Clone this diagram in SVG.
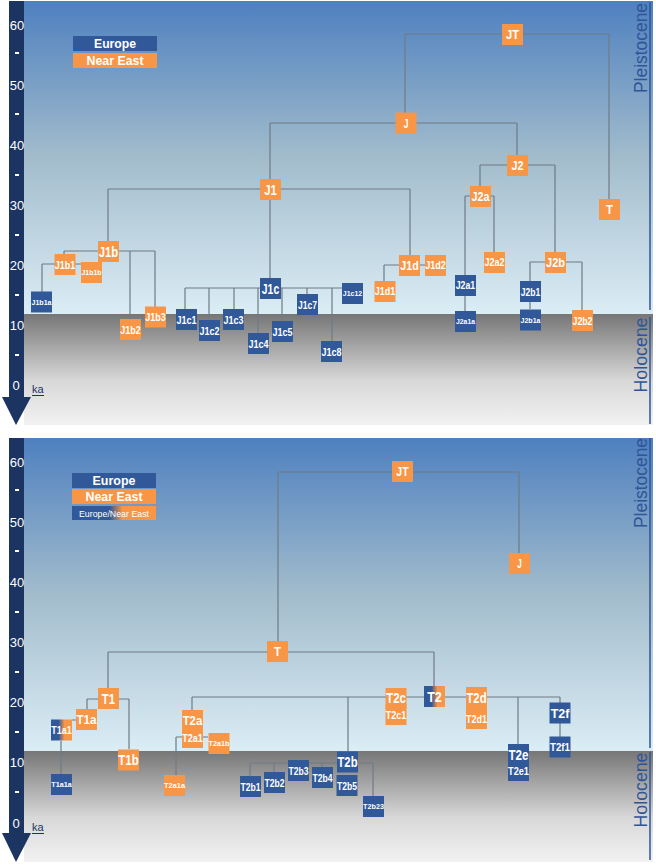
<svg xmlns="http://www.w3.org/2000/svg" width="656" height="865" viewBox="0 0 656 865">
<defs>
<linearGradient id="gP" x1="0" y1="0" x2="0" y2="1"><stop offset="0" stop-color="#4e80bf"/><stop offset="0.5" stop-color="#a2bccc"/><stop offset="1" stop-color="#dbedf5"/></linearGradient>
<linearGradient id="gH" x1="0" y1="0" x2="0" y2="1"><stop offset="0" stop-color="#767676"/><stop offset="0.6" stop-color="#d8d8d8"/><stop offset="1" stop-color="#f2f2f2"/></linearGradient>
<linearGradient id="gBO" x1="0" y1="0" x2="1" y2="0"><stop offset="0.36" stop-color="#31599a"/><stop offset="0.64" stop-color="#f79646"/></linearGradient>
<linearGradient id="gL" x1="0" y1="0" x2="1" y2="0"><stop offset="0.45" stop-color="#31599a"/><stop offset="0.6" stop-color="#f79646"/></linearGradient>
</defs>
<style>
.o{fill:#f79646}.b{fill:#31599a}.g{fill:url(#gBO)}
text{font-family:"Liberation Sans",Arial,sans-serif}
.n text{font-weight:bold;fill:#fff;text-anchor:middle}
.ax{fill:#fff;font-size:13px;text-anchor:middle}
.bar{fill:#1b3461}
.ep{fill:#2f5597;font-size:18px;text-anchor:middle}
.el{stroke:#2f5597;stroke-width:1.5}
.c path{fill:none;stroke:#6f7b86;stroke-width:1.2}
.lg{font-weight:bold;fill:#fff;font-size:12px;text-anchor:middle}
</style>
<!-- backgrounds -->
<rect x="24" y="1" width="629" height="313" fill="url(#gP)"/>
<rect x="24" y="314" width="629" height="111" fill="url(#gH)"/>
<rect x="24" y="438" width="629" height="313" fill="url(#gP)"/>
<rect x="24" y="751" width="629" height="111" fill="url(#gH)"/>
<!-- axes -->
<g id="axis-top">
<rect class="bar" x="9" y="1" width="15" height="397"/>
<polygon class="bar" points="2,397 31,397 16,425"/>
<text class="ax" x="17" y="30">60</text><text class="ax" x="17" y="90">50</text><text class="ax" x="17" y="150">40</text><text class="ax" x="17" y="210">30</text><text class="ax" x="17" y="270">20</text><text class="ax" x="17" y="330">10</text><text class="ax" x="16" y="390">0</text>
<g fill="#fff"><rect x="15" y="52" width="4" height="2"/><rect x="15" y="113" width="4" height="2"/><rect x="15" y="174" width="4" height="2"/><rect x="15" y="234" width="4" height="2"/><rect x="15" y="294" width="4" height="2"/><rect x="15" y="354" width="4" height="2"/></g>
<text x="32" y="393" font-size="11" fill="#1b3461">ka</text><line x1="32" y1="395.5" x2="44" y2="395.5" stroke="#1b3461" stroke-width="1"/>
</g>
<g id="axis-bottom">
<rect class="bar" x="9" y="438" width="15" height="395"/>
<polygon class="bar" points="2,833 31,833 16,862"/>
<text class="ax" x="17" y="467">60</text><text class="ax" x="17" y="527">50</text><text class="ax" x="17" y="587">40</text><text class="ax" x="17" y="647">30</text><text class="ax" x="17" y="707">20</text><text class="ax" x="17" y="767">10</text><text class="ax" x="16" y="828">0</text>
<g fill="#fff"><rect x="15" y="489" width="4" height="2"/><rect x="15" y="550" width="4" height="2"/><rect x="15" y="611" width="4" height="2"/><rect x="15" y="671" width="4" height="2"/><rect x="15" y="731" width="4" height="2"/><rect x="15" y="791" width="4" height="2"/></g>
<text x="32" y="831" font-size="11" fill="#1b3461">ka</text><line x1="32" y1="833.5" x2="44" y2="833.5" stroke="#1b3461" stroke-width="1"/>
</g>
<!-- epochs -->
<g id="epochs">
<text class="ep" transform="translate(647,48) rotate(-90)" textLength="90" lengthAdjust="spacingAndGlyphs">Pleistocene</text>
<text class="ep" transform="translate(647,355) rotate(-90)" textLength="75" lengthAdjust="spacingAndGlyphs">Holocene</text>
<line class="el" x1="650" y1="2" x2="650" y2="310"/><line class="el" x1="650" y1="317" x2="650" y2="424"/>
<text class="ep" transform="translate(647,483) rotate(-90)" textLength="90" lengthAdjust="spacingAndGlyphs">Pleistocene</text>
<text class="ep" transform="translate(647,790) rotate(-90)" textLength="75" lengthAdjust="spacingAndGlyphs">Holocene</text>
<line class="el" x1="650" y1="438" x2="650" y2="748"/><line class="el" x1="650" y1="752" x2="650" y2="860"/>
</g>
<!-- legends -->
<g id="legend-top">
<rect class="b" x="73" y="36" width="84" height="15"/><text class="lg" x="115" y="48" textLength="42" lengthAdjust="spacingAndGlyphs">Europe</text>
<rect class="o" x="73" y="53" width="84" height="15"/><text class="lg" x="115" y="65" textLength="57" lengthAdjust="spacingAndGlyphs">Near East</text>
</g>
<g id="legend-bottom">
<rect class="b" x="72" y="473" width="84" height="15"/><text class="lg" x="114" y="485" textLength="43" lengthAdjust="spacingAndGlyphs">Europe</text>
<rect class="o" x="72" y="489" width="84" height="15"/><text class="lg" x="114" y="501" textLength="57" lengthAdjust="spacingAndGlyphs">Near East</text>
<rect fill="url(#gL)" x="72" y="506" width="84" height="14"/><text x="114" y="516.5" font-size="9.5" fill="#fff" text-anchor="middle" textLength="70" lengthAdjust="spacingAndGlyphs">Europe/Near East</text>
</g>
<!-- connectors -->
<g id="connectors" class="c">
<path d="M405,34H609M405,34V113M609,34V199M270,123H517M270,123V179M517,123V155M480,165H555M480,165V186M555,165V252M465,196H494M465,196V275M494,196V252M465,296V311M530,262H582M530,262V281M582,262V310M530,302V309M108,189H410M410,189V255M108,189V241M270,200V278M384,265H425M384,265V281M64,251H155M64,251V254M130,251V319M155,251V307M42,264H81M42,264V292M185,288H342M185,288V309M209,288V320M234,288V309M258,288V333M282,288V321M307,288V294M332,288V341"/>
<path d="M278,472H519M519,472V553M278,472V641M108,652H434M108,652V688M434,652V686M87,699H129M87,699V709M129,699V749M72,720H76M61,741V774M192,697H560M192,697V710M348,697V752M518,697V744M560,697V703M560,723V737M176,737H208M176,737V775M250,763H373M250,763V776M274,763V772M299,763V760M322,763V767M373,763V796"/>
</g>
<!-- top tree nodes -->
<g id="tJT" class="n"><rect class="o" x="502" y="24" width="21" height="21"/><text x="512.5" y="39.2" font-size="13" textLength="13" lengthAdjust="spacingAndGlyphs">JT</text></g>
<g id="tJ" class="n"><rect class="o" x="395.5" y="112.5" width="21" height="21"/><text x="406" y="127.7" font-size="13" textLength="5" lengthAdjust="spacingAndGlyphs">J</text></g>
<g id="tJ2" class="n"><rect class="o" x="507" y="155" width="21" height="21"/><text x="517.5" y="170.2" font-size="13" textLength="12" lengthAdjust="spacingAndGlyphs">J2</text></g>
<g id="tJ2a" class="n"><rect class="o" x="470" y="186" width="21" height="21"/><text x="480.5" y="200.8" font-size="12" textLength="18" lengthAdjust="spacingAndGlyphs">J2a</text></g>
<g id="tT" class="n"><rect class="o" x="599" y="199" width="21" height="21"/><text x="609.5" y="214.2" font-size="13" textLength="7" lengthAdjust="spacingAndGlyphs">T</text></g>
<g id="tJ2a2" class="n"><rect class="o" x="484" y="252" width="21" height="21"/><text x="494.5" y="266.3" font-size="10.5" textLength="20" lengthAdjust="spacingAndGlyphs">J2a2</text></g>
<g id="tJ2a1" class="n"><rect class="b" x="455" y="275" width="21" height="21"/><text x="465.5" y="289.3" font-size="10.5" textLength="19.5" lengthAdjust="spacingAndGlyphs">J2a1</text></g>
<g id="tJ2a1a" class="n"><rect class="b" x="455" y="311" width="21" height="21"/><text x="465.5" y="324.4" font-size="8" textLength="19" lengthAdjust="spacingAndGlyphs">J2a1a</text></g>
<g id="tJ2b" class="n"><rect class="o" x="545" y="252" width="21" height="21"/><text x="555.5" y="267.2" font-size="13" textLength="19" lengthAdjust="spacingAndGlyphs">J2b</text></g>
<g id="tJ2b1" class="n"><rect class="b" x="520" y="281" width="21" height="21"/><text x="530.5" y="295.6" font-size="11.5" textLength="19.5" lengthAdjust="spacingAndGlyphs">J2b1</text></g>
<g id="tJ2b1a" class="n"><rect class="b" x="520" y="309.5" width="21" height="21"/><text x="530.5" y="322.9" font-size="8" textLength="20" lengthAdjust="spacingAndGlyphs">J2b1a</text></g>
<g id="tJ2b2" class="n"><rect class="o" x="572" y="310" width="21" height="21"/><text x="582.5" y="324.6" font-size="11.5" textLength="20" lengthAdjust="spacingAndGlyphs">J2b2</text></g>
<g id="tJ1d" class="n"><rect class="o" x="399" y="255" width="21" height="21"/><text x="409.5" y="270.2" font-size="13" textLength="18.5" lengthAdjust="spacingAndGlyphs">J1d</text></g>
<g id="tJ1d2" class="n"><rect class="o" x="425" y="255" width="21" height="21"/><text x="435.5" y="269.3" font-size="10.5" textLength="20.5" lengthAdjust="spacingAndGlyphs">J1d2</text></g>
<g id="tJ1d1" class="n"><rect class="o" x="374.5" y="281" width="21" height="21"/><text x="385" y="295.3" font-size="10.5" textLength="20.5" lengthAdjust="spacingAndGlyphs">J1d1</text></g>
<g id="tJ1" class="n"><rect class="o" x="260" y="179" width="21" height="21"/><text x="270.5" y="194.7" font-size="14.5" textLength="12.5" lengthAdjust="spacingAndGlyphs">J1</text></g>
<g id="tJ1b" class="n"><rect class="o" x="98" y="241" width="21" height="21"/><text x="108.5" y="256.5" font-size="14" textLength="19.3" lengthAdjust="spacingAndGlyphs">J1b</text></g>
<g id="tJ1b1" class="n"><rect class="o" x="54.5" y="254" width="21" height="21"/><text x="65" y="268.6" font-size="11.5" textLength="20.5" lengthAdjust="spacingAndGlyphs">J1b1</text></g>
<g id="tJ1b1b" class="n"><rect class="o" x="81" y="262" width="21" height="21"/><text x="91.5" y="275.4" font-size="8" textLength="20" lengthAdjust="spacingAndGlyphs">J1b1b</text></g>
<g id="tJ1b1a" class="n"><rect class="b" x="31" y="291.5" width="21" height="21"/><text x="41.5" y="304.9" font-size="8" textLength="20" lengthAdjust="spacingAndGlyphs">J1b1a</text></g>
<g id="tJ1b2" class="n"><rect class="o" x="120" y="319" width="21" height="21"/><text x="130.5" y="333.6" font-size="11.5" textLength="20.5" lengthAdjust="spacingAndGlyphs">J1b2</text></g>
<g id="tJ1b3" class="n"><rect class="o" x="145" y="306.5" width="21" height="21"/><text x="155.5" y="321.1" font-size="11.5" textLength="20.5" lengthAdjust="spacingAndGlyphs">J1b3</text></g>
<g id="tJ1c" class="n"><rect class="b" x="260" y="278" width="21" height="21"/><text x="270.5" y="293.5" font-size="14" textLength="17.3" lengthAdjust="spacingAndGlyphs">J1c</text></g>
<g id="tJ1c1" class="n"><rect class="b" x="176" y="309" width="21" height="21"/><text x="186.5" y="323.6" font-size="11.5" textLength="20" lengthAdjust="spacingAndGlyphs">J1c1</text></g>
<g id="tJ1c2" class="n"><rect class="b" x="199" y="320" width="21" height="21"/><text x="209.5" y="334.6" font-size="11.5" textLength="20" lengthAdjust="spacingAndGlyphs">J1c2</text></g>
<g id="tJ1c3" class="n"><rect class="b" x="223" y="309" width="21" height="21"/><text x="233.5" y="323.6" font-size="11.5" textLength="20" lengthAdjust="spacingAndGlyphs">J1c3</text></g>
<g id="tJ1c4" class="n"><rect class="b" x="248" y="333" width="21" height="21"/><text x="258.5" y="347.6" font-size="11.5" textLength="20" lengthAdjust="spacingAndGlyphs">J1c4</text></g>
<g id="tJ1c5" class="n"><rect class="b" x="272" y="321" width="21" height="21"/><text x="282.5" y="335.6" font-size="11.5" textLength="20" lengthAdjust="spacingAndGlyphs">J1c5</text></g>
<g id="tJ1c7" class="n"><rect class="b" x="297" y="294" width="21" height="21"/><text x="307.5" y="308.6" font-size="11.5" textLength="19" lengthAdjust="spacingAndGlyphs">J1c7</text></g>
<g id="tJ1c8" class="n"><rect class="b" x="321" y="341" width="21" height="21"/><text x="331.5" y="355.6" font-size="11.5" textLength="20" lengthAdjust="spacingAndGlyphs">J1c8</text></g>
<g id="tJ1c12" class="n"><rect class="b" x="342" y="283" width="21" height="21"/><text x="352.5" y="296.4" font-size="8" textLength="19.3" lengthAdjust="spacingAndGlyphs">J1c12</text></g>
<!-- bottom tree nodes -->
<g id="bJT" class="n"><rect class="o" x="392" y="461" width="21" height="21"/><text x="402.5" y="476.2" font-size="13" textLength="12.3" lengthAdjust="spacingAndGlyphs">JT</text></g>
<g id="bJ" class="n"><rect class="o" x="509" y="553" width="21" height="21"/><text x="519.5" y="568.2" font-size="13" textLength="4.5" lengthAdjust="spacingAndGlyphs">J</text></g>
<g id="bT" class="n"><rect class="o" x="267" y="641" width="21" height="21"/><text x="277.5" y="656.2" font-size="13" textLength="7" lengthAdjust="spacingAndGlyphs">T</text></g>
<g id="bT1" class="n"><rect class="o" x="98" y="688" width="21" height="21"/><text x="108.5" y="703.9" font-size="15" textLength="13.3" lengthAdjust="spacingAndGlyphs">T1</text></g>
<g id="bT1a" class="n"><rect class="o" x="76" y="709" width="21" height="21"/><text x="86.5" y="724.2" font-size="13" textLength="20" lengthAdjust="spacingAndGlyphs">T1a</text></g>
<g id="bT1a1" class="n"><rect class="g" x="51" y="719.5" width="21" height="21"/><text x="61.5" y="733.8" font-size="10.5" textLength="20.5" lengthAdjust="spacingAndGlyphs">T1a1</text></g>
<g id="bT1a1a" class="n"><rect class="b" x="51" y="774" width="21" height="21"/><text x="61.5" y="787.2" font-size="7.5" textLength="20.5" lengthAdjust="spacingAndGlyphs">T1a1a</text></g>
<g id="bT1b" class="n"><rect class="o" x="118" y="749.5" width="21" height="21"/><text x="128.5" y="765.2" font-size="14.5" textLength="20.3" lengthAdjust="spacingAndGlyphs">T1b</text></g>
<g id="bT2a" class="n"><rect class="o" x="182" y="710" width="21" height="21"/><text x="192.5" y="725.2" font-size="13" textLength="19.7" lengthAdjust="spacingAndGlyphs">T2a</text></g>
<g id="bT2a1" class="n"><rect class="o" x="182" y="727" width="21" height="21"/><text x="192.5" y="741.6" font-size="11.5" textLength="20.7" lengthAdjust="spacingAndGlyphs">T2a1</text></g>
<g id="bT2a1a" class="n"><rect class="o" x="164" y="775" width="21" height="21"/><text x="174.5" y="788.4" font-size="8" textLength="21" lengthAdjust="spacingAndGlyphs">T2a1a</text></g>
<g id="bT2a1b" class="n"><rect class="o" x="208.5" y="733" width="21" height="21"/><text x="219" y="746.4" font-size="8" textLength="21" lengthAdjust="spacingAndGlyphs">T2a1b</text></g>
<g id="bT2c" class="n"><rect class="o" x="385.5" y="688" width="21" height="21"/><text x="396" y="703" font-size="14" textLength="19.7" lengthAdjust="spacingAndGlyphs">T2c</text></g>
<g id="bT2c1" class="n"><rect class="o" x="385.5" y="704" width="21" height="21"/><text x="396" y="718.6" font-size="11.5" textLength="20.3" lengthAdjust="spacingAndGlyphs">T2c1</text></g>
<g id="bT2" class="n"><rect class="g" x="424" y="686" width="21" height="21"/><text x="434.5" y="701.9" font-size="15" textLength="14.7" lengthAdjust="spacingAndGlyphs">T2</text></g>
<g id="bT2d" class="n"><rect class="o" x="466" y="687" width="21" height="21"/><text x="476.5" y="702.5" font-size="14" textLength="20" lengthAdjust="spacingAndGlyphs">T2d</text></g>
<g id="bT2d1" class="n"><rect class="o" x="466" y="708" width="21" height="21"/><text x="476.5" y="722.6" font-size="11.5" textLength="21" lengthAdjust="spacingAndGlyphs">T2d1</text></g>
<g id="bT2e" class="n"><rect class="b" x="508" y="744" width="21" height="21"/><text x="518.5" y="760" font-size="14" textLength="20" lengthAdjust="spacingAndGlyphs">T2e</text></g>
<g id="bT2e1" class="n"><rect class="b" x="508" y="760" width="21" height="21"/><text x="518.5" y="774.6" font-size="11.5" textLength="21" lengthAdjust="spacingAndGlyphs">T2e1</text></g>
<g id="bT2f" class="n"><rect class="b" x="549.5" y="702.5" width="21" height="21"/><text x="560" y="717.7" font-size="13" textLength="18.7" lengthAdjust="spacingAndGlyphs">T2f</text></g>
<g id="bT2f1" class="n"><rect class="b" x="549.5" y="736.5" width="21" height="21"/><text x="560" y="751.1" font-size="11.5" textLength="20" lengthAdjust="spacingAndGlyphs">T2f1</text></g>
<g id="bT2b" class="n"><rect class="b" x="337" y="751.5" width="21" height="21"/><text x="347.5" y="767.4" font-size="15" textLength="20" lengthAdjust="spacingAndGlyphs">T2b</text></g>
<g id="bT2b1" class="n"><rect class="b" x="240" y="776" width="21" height="21"/><text x="250.5" y="790.6" font-size="11.5" textLength="20" lengthAdjust="spacingAndGlyphs">T2b1</text></g>
<g id="bT2b2" class="n"><rect class="b" x="264" y="772" width="21" height="21"/><text x="274.5" y="786.6" font-size="11.5" textLength="20" lengthAdjust="spacingAndGlyphs">T2b2</text></g>
<g id="bT2b3" class="n"><rect class="b" x="288" y="760" width="21" height="21"/><text x="298.5" y="774.6" font-size="11.5" textLength="20" lengthAdjust="spacingAndGlyphs">T2b3</text></g>
<g id="bT2b4" class="n"><rect class="b" x="312" y="767" width="21" height="21"/><text x="322.5" y="781.6" font-size="11.5" textLength="20" lengthAdjust="spacingAndGlyphs">T2b4</text></g>
<g id="bT2b5" class="n"><rect class="b" x="336.5" y="775" width="21" height="21"/><text x="347" y="789.6" font-size="11.5" textLength="20" lengthAdjust="spacingAndGlyphs">T2b5</text></g>
<g id="bT2b23" class="n"><rect class="b" x="363" y="796" width="21" height="21"/><text x="373.5" y="809.4" font-size="8" textLength="21" lengthAdjust="spacingAndGlyphs">T2b23</text></g>
</svg>
